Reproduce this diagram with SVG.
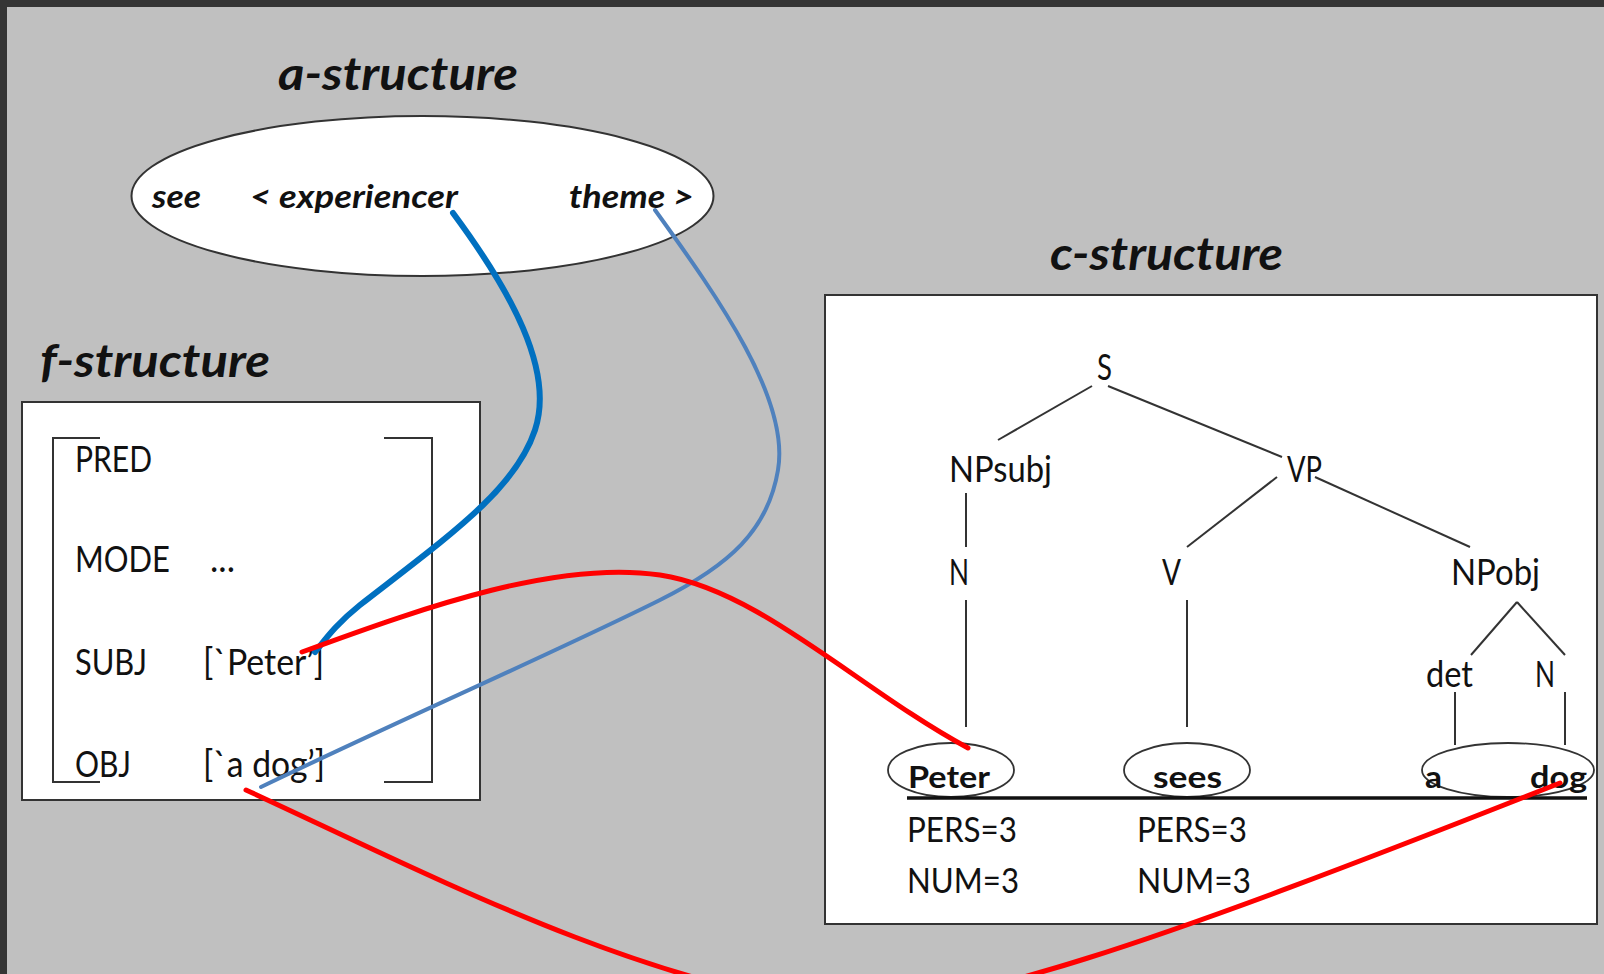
<svg xmlns="http://www.w3.org/2000/svg" width="1604" height="974" viewBox="0 0 1604 974">
<style>
text{font-family:"Lato","Liberation Sans",sans-serif;fill:#111}
.title{font-size:45px;font-weight:bold;font-style:italic}
.arg{font-size:32px;font-weight:bold;font-style:italic}
.f{font-size:37px}
.t{font-size:36px}
.w{font-size:31px;font-weight:bold}
.feat{font-size:35px}
.box{fill:#fff;stroke:#333;stroke-width:2}
.ln{stroke:#333;stroke-width:2;fill:none}
.ell{fill:none;stroke:#333;stroke-width:1.8}
.red{fill:none;stroke:#ff0000;stroke-width:5;stroke-linecap:round}
</style>
<rect x="0" y="0" width="1604" height="974" fill="#c0c0c0"/>
<rect x="0" y="0" width="1604" height="7" fill="#353535"/>
<rect x="0" y="0" width="7" height="974" fill="#353535"/>

<g id="a-structure">
<text class="title" x="278" y="90" textLength="240" lengthAdjust="spacingAndGlyphs">a-structure</text>
<ellipse cx="422.5" cy="196" rx="291" ry="80" fill="#fff" stroke="#333" stroke-width="2"/>
<text class="arg" x="152" y="208" textLength="49" lengthAdjust="spacingAndGlyphs">see</text>
<text class="arg" x="250" y="208" textLength="208" lengthAdjust="spacingAndGlyphs">&lt; experiencer</text>
<text class="arg" x="569" y="208" textLength="125" lengthAdjust="spacingAndGlyphs">theme &gt;</text>
</g>

<g id="f-structure">
<text class="title" x="40" y="377" textLength="230" lengthAdjust="spacingAndGlyphs">f-structure</text>
<rect class="box" x="22" y="402" width="458" height="398"/>
<path class="ln" d="M100 438 H53 V782 H100"/>
<path class="ln" d="M384 438 H432 V782 H384"/>
<text class="f" x="75" y="472" textLength="77" lengthAdjust="spacingAndGlyphs">PRED</text>
<text class="f" x="75" y="572" textLength="95" lengthAdjust="spacingAndGlyphs">MODE</text>
<text class="f" x="210" y="572" textLength="25" lengthAdjust="spacingAndGlyphs">...</text>
<text class="f" x="75" y="675" textLength="72" lengthAdjust="spacingAndGlyphs">SUBJ</text>
<text class="f" x="203" y="675" textLength="121" lengthAdjust="spacingAndGlyphs">[`Peter’]</text>
<text class="f" x="75" y="777" textLength="56" lengthAdjust="spacingAndGlyphs">OBJ</text>
<text class="f" x="203" y="777" textLength="122" lengthAdjust="spacingAndGlyphs">[`a dog’]</text>
</g>

<g id="c-structure">
<text class="title" x="1050" y="270" textLength="233" lengthAdjust="spacingAndGlyphs">c-structure</text>
<rect class="box" x="825" y="295" width="772" height="629" stroke-width="2.5"/>
<g id="tree-lines">
<line class="ln" x1="1092" y1="386" x2="998" y2="440"/>
<line class="ln" x1="1108" y1="386" x2="1282" y2="457"/>
<line class="ln" x1="966" y1="493" x2="966" y2="547"/>
<line class="ln" x1="1277" y1="477" x2="1187" y2="547"/>
<line class="ln" x1="1315" y1="477" x2="1470" y2="547"/>
<line class="ln" x1="966" y1="600" x2="966" y2="727"/>
<line class="ln" x1="1187" y1="600" x2="1187" y2="727"/>
<line class="ln" x1="1517" y1="602" x2="1471" y2="655"/>
<line class="ln" x1="1517" y1="602" x2="1565" y2="655"/>
<line class="ln" x1="1455" y1="692" x2="1455" y2="745"/>
<line class="ln" x1="1565" y1="692" x2="1565" y2="745"/>
</g>
<text class="t" x="1097" y="380" textLength="15" lengthAdjust="spacingAndGlyphs">S</text>
<text class="t" x="949" y="482" textLength="103" lengthAdjust="spacingAndGlyphs">NPsubj</text>
<text class="t" x="1287" y="482" textLength="35" lengthAdjust="spacingAndGlyphs">VP</text>
<text class="t" x="949" y="585" textLength="20" lengthAdjust="spacingAndGlyphs">N</text>
<text class="t" x="1162" y="585" textLength="19" lengthAdjust="spacingAndGlyphs">V</text>
<text class="t" x="1451" y="585" textLength="89" lengthAdjust="spacingAndGlyphs">NPobj</text>
<text class="t" x="1426" y="687" textLength="47" lengthAdjust="spacingAndGlyphs">det</text>
<text class="t" x="1535" y="687" textLength="20" lengthAdjust="spacingAndGlyphs">N</text>
<g id="word-peter">
<ellipse class="ell" cx="951" cy="770" rx="63" ry="27"/>
<text class="w" x="908" y="788" textLength="82" lengthAdjust="spacingAndGlyphs">Peter</text>
</g>
<g id="word-sees">
<ellipse class="ell" cx="1187" cy="770" rx="63" ry="27"/>
<text class="w" x="1153" y="788" textLength="69" lengthAdjust="spacingAndGlyphs">sees</text>
</g>
<g id="word-adog">
<ellipse class="ell" cx="1508" cy="770" rx="86" ry="27"/>
<text class="w" x="1425" y="788" textLength="17" lengthAdjust="spacingAndGlyphs">a</text>
<text class="w" x="1530" y="788" textLength="57" lengthAdjust="spacingAndGlyphs">dog</text>
</g>
<line x1="907" y1="798" x2="1587" y2="798" stroke="#111" stroke-width="3.5"/>
<text class="feat" x="907" y="842" textLength="110" lengthAdjust="spacingAndGlyphs">PERS=3</text>
<text class="feat" x="907" y="893" textLength="112" lengthAdjust="spacingAndGlyphs">NUM=3</text>
<text class="feat" x="1137" y="842" textLength="110" lengthAdjust="spacingAndGlyphs">PERS=3</text>
<text class="feat" x="1137" y="893" textLength="114" lengthAdjust="spacingAndGlyphs">NUM=3</text>
</g>

<g id="connectors">
<path d="M453 213 C510 290 555 370 535 430 C515 490 450 535 360 605 C335 625 325 640 315 652" fill="none" stroke="#0070c0" stroke-width="6" stroke-linecap="round"/>
<path d="M655 210 C720 300 790 400 778 470 C768 530 730 565 660 600 C560 650 400 720 261 787" fill="none" stroke="#4f81bd" stroke-width="4" stroke-linecap="round"/>
<path class="red" d="M302 652 C430 605 560 560 660 575 C760 590 860 690 968 748"/>
<path class="red" d="M246 790 C420 870 640 985 830 1005 C950 1015 1150 945 1560 783"/>
</g>
</svg>
